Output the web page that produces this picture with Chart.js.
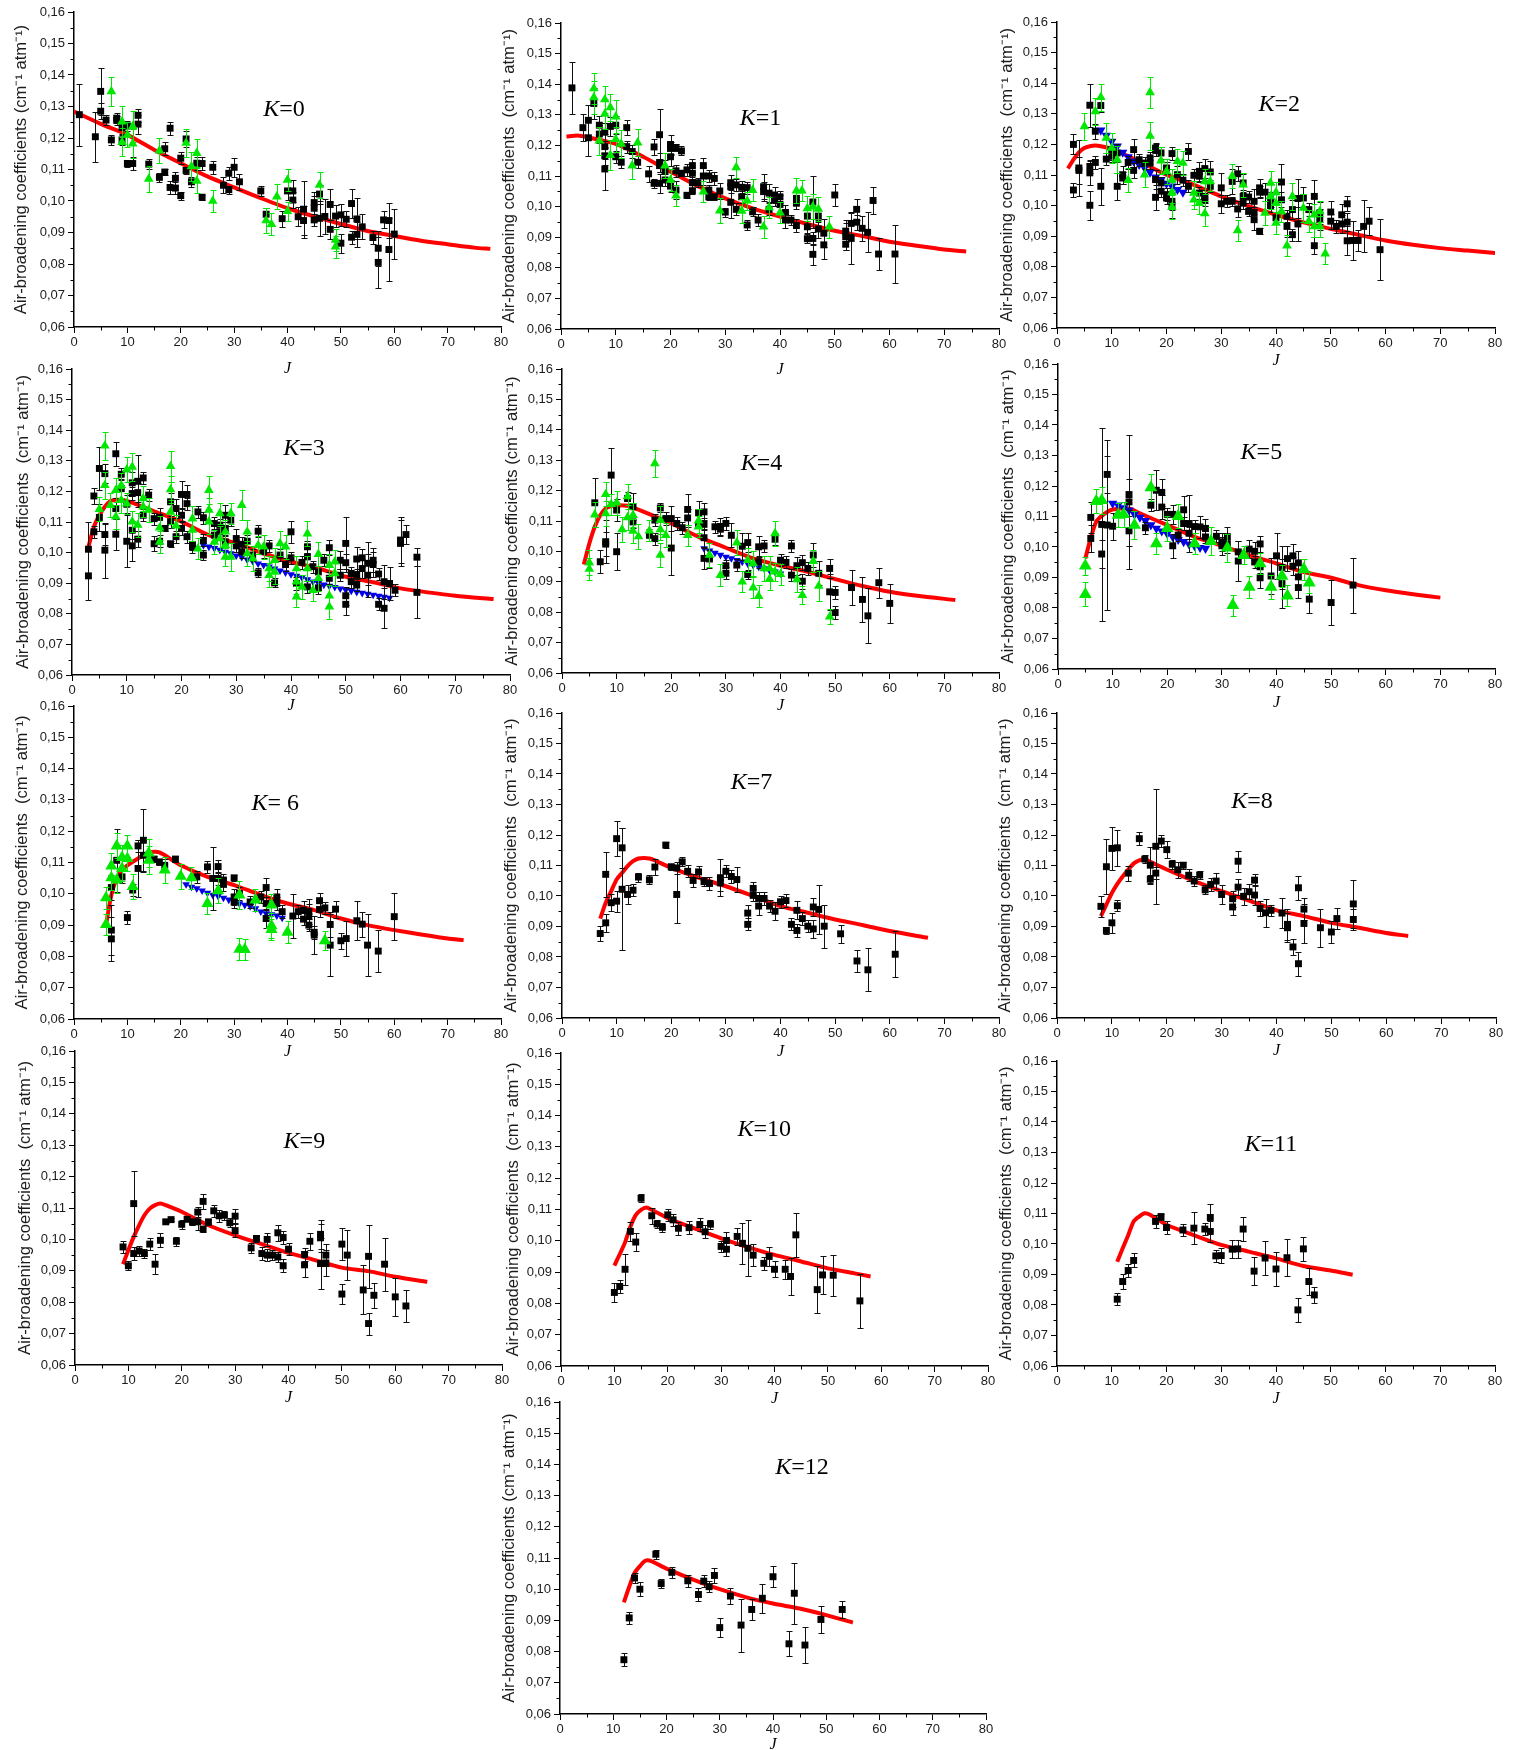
<!DOCTYPE html>
<html>
<head>
<meta charset="utf-8">
<title>Air-broadening coefficients</title>
<script src="https://cdn.jsdelivr.net/npm/chart.js@4"></script>
<style>
  html, body { margin: 0; padding: 0; background: #fff; }
  #page { position: relative; width: 1522px; height: 1750px; overflow: hidden; }
  canvas { position: absolute; }
</style>
</head>
<body>
<div id="page"></div>
<script>
// K=0
const k0BlackJ = [1,4,5,5,6,7,8,8,9,9,10,10,11,12,12,14,16,17,17,18,18,19,19,20,20,21,21,22,23,24,24,26,28,29,29,30,31,35,36,39,40,41,41,42,43,43,45,45,45,46,46,47,48,48,49,50,50,51,52,52,53,53,54,56,57,57,58,59,59,60];
const k0BlackG = [0.1274,0.1204,0.1348,0.1285,0.1257,0.1194,0.1263,0.1256,0.1233,0.1194,0.1238,0.1119,0.1119,0.1272,0.1244,0.1117,0.1075,0.1166,0.1092,0.1231,0.1043,0.1072,0.1041,0.1136,0.1017,0.1197,0.1097,0.1061,0.112,0.1119,0.1012,0.1107,0.105,0.1088,0.1036,0.1107,0.1061,0.1032,0.0958,0.0944,0.1032,0.1032,0.1003,0.095,0.0974,0.0938,0.0995,0.0977,0.094,0.1022,0.0945,0.0951,0.0989,0.091,0.0952,0.0956,0.0866,0.0942,0.0992,0.0885,0.0943,0.0894,0.0918,0.0884,0.085,0.0805,0.094,0.0938,0.0846,0.0895];
const k0BlackE = [0.0098,0.008,0.0075,0.0025,0.0015,0.0015,0.0015,0.0015,0.002,0.0015,0.0015,0.001,0.0022,0.002,0.003,0.0015,0.0015,0.002,0.001,0.002,0.002,0.002,0.002,0.002,0.0013,0.0025,0.001,0.0015,0.002,0.002,0.0008,0.002,0.0025,0.002,0.0013,0.003,0.0025,0.0016,0.002,0.0025,0.003,0.0035,0.0025,0.003,0.009,0.0045,0.0035,0.004,0.002,0.003,0.0055,0.0055,0.005,0.003,0.0035,0.0035,0.003,0.0025,0.0045,0.002,0.0065,0.004,0.004,0.002,0.0055,0.008,0.0027,0.0055,0.0099,0.008];
const k0GreenJ = [7,9,9,10,11,11,14,16,21,22,23,23,26,36,37,38,40,40,46,49,49];
const k0GreenG = [0.1348,0.1252,0.1187,0.121,0.1237,0.1182,0.107,0.116,0.1184,0.111,0.1152,0.1064,0.1,0.0938,0.0926,0.1014,0.1067,0.0968,0.1051,0.0876,0.0855];
const k0GreenE = [0.0045,0.005,0.0045,0.004,0.005,0.0045,0.004,0.004,0.0045,0.0045,0.0045,0.004,0.0035,0.004,0.0035,0.004,0.0035,0.003,0.004,0.0035,0.0035];
const k0CurveJ = [0,5,10,15,20,25,30,35,40,45,50,55,60,65,70,75,78];
const k0CurveG = [0.1284,0.1245,0.121,0.1163,0.112,0.1078,0.1043,0.1009,0.0977,0.0951,0.0927,0.0905,0.0889,0.0874,0.0863,0.0852,0.0848];

// K=1
const k1BlackJ = [2,4,5,5,6,7,7,8,8,8,8,9,10,10,11,12,12,13,14,16,17,17,18,18,18,18,19,19,20,20,20,20,21,21,21,22,22,23,23,24,24,24,24,25,26,26,27,27,27,28,28,29,30,31,31,31,32,32,33,33,34,34,35,36,37,37,38,38,39,39,40,40,41,41,42,43,43,43,45,45,45,46,46,46,47,47,48,48,50,52,52,52,53,53,54,54,55,56,57,58,61];
const k1BlackG = [0.1388,0.1258,0.1282,0.1225,0.1337,0.1266,0.1237,0.1243,0.1196,0.1166,0.1123,0.1262,0.1266,0.1163,0.1145,0.1258,0.1196,0.118,0.1145,0.1107,0.1195,0.1076,0.1235,0.1144,0.1134,0.1076,0.1117,0.1087,0.1203,0.119,0.1163,0.1067,0.1193,0.1117,0.1054,0.1182,0.1109,0.112,0.1037,0.1134,0.1109,0.1078,0.1052,0.1078,0.1134,0.11,0.11,0.1032,0.1054,0.1092,0.1032,0.1051,0.0982,0.1078,0.1065,0.1014,0.1071,0.0991,0.1032,0.1063,0.1062,0.094,0.0983,0.0956,0.1065,0.1049,0.1044,0.0991,0.1038,0.1022,0.1032,0.1007,0.0981,0.0956,0.0956,0.0938,0.1027,0.1011,0.0969,0.0934,0.0895,0.1015,0.0896,0.0844,0.0969,0.0927,0.0913,0.0875,0.1038,0.092,0.0902,0.0877,0.0945,0.0896,0.0991,0.0949,0.0929,0.0916,0.102,0.0845,0.0845];
const k1BlackE = [0.0085,0.0045,0.005,0.006,0.005,0.003,0.003,0.003,0.004,0.003,0.007,0.003,0.003,0.002,0.002,0.0025,0.002,0.002,0.002,0.0025,0.0025,0.0015,0.0085,0.003,0.002,0.003,0.0035,0.002,0.003,0.002,0.003,0.002,0.001,0.002,0.003,0.0015,0.001,0.002,0.001,0.002,0.002,0.002,0.001,0.0015,0.0025,0.003,0.002,0.001,0.0015,0.002,0.001,0.0025,0.0015,0.0025,0.002,0.005,0.002,0.002,0.002,0.002,0.002,0.0015,0.0015,0.002,0.004,0.003,0.003,0.002,0.0025,0.002,0.002,0.003,0.0025,0.0025,0.0015,0.002,0.002,0.002,0.0025,0.002,0.0015,0.0085,0.002,0.0035,0.002,0.003,0.0045,0.0045,0.0035,0.0035,0.0045,0.002,0.0035,0.0085,0.0035,0.0025,0.004,0.0065,0.0045,0.0053,0.0095];
const k1GreenJ = [6,6,7,8,8,9,9,10,10,11,13,14,19,20,21,26,29,32,33,34,35,37,38,40,43,44,45,46,47,49];
const k1GreenG = [0.1386,0.1357,0.1215,0.135,0.1303,0.1324,0.1168,0.1294,0.122,0.1205,0.1134,0.1209,0.1134,0.1087,0.1036,0.1049,0.0987,0.1128,0.0986,0.1019,0.1054,0.0934,0.0997,0.098,0.1052,0.1052,0.0994,0.1,0.0992,0.0934];
const k1GreenE = [0.0052,0.0055,0.0045,0.0045,0.005,0.0045,0.005,0.0055,0.004,0.0045,0.0045,0.0045,0.004,0.0035,0.0035,0.0035,0.004,0.0035,0.004,0.003,0.0035,0.0035,0.0035,0.0035,0.004,0.0035,0.004,0.004,0.004,0.0035];
const k1CurveJ = [1,3,5,10,15,20,25,30,35,40,45,50,55,60,65,70,74];
const k1CurveG = [0.1229,0.1232,0.1226,0.1205,0.1163,0.1114,0.1067,0.1027,0.0994,0.0967,0.0943,0.0921,0.0904,0.0885,0.0872,0.086,0.0853];

// K=2
const k2BlackJ = [3,3,4,4,6,6,6,6,7,7,8,8,9,10,10,11,11,12,12,13,14,14,15,16,17,17,18,18,18,18,19,19,19,20,20,20,21,21,21,22,23,24,24,25,26,26,26,27,27,27,28,28,30,30,31,32,32,33,33,34,34,34,35,35,36,36,36,37,37,37,38,39,39,40,41,41,42,42,43,43,44,44,45,46,47,47,48,48,50,50,51,52,52,53,53,53,54,55,56,57,59];
const k2BlackG = [0.12,0.1051,0.1123,0.1115,0.1328,0.1128,0.1107,0.1001,0.1243,0.1141,0.1327,0.1063,0.1152,0.1183,0.1161,0.1063,0.1172,0.1101,0.109,0.1141,0.1183,0.1115,0.115,0.1139,0.1156,0.1139,0.1188,0.1181,0.1085,0.1027,0.1172,0.1074,0.1047,0.1123,0.1036,0.1025,0.117,0.1014,0.1,0.1101,0.1083,0.1177,0.1063,0.1099,0.1112,0.1096,0.1041,0.1121,0.103,0.1019,0.111,0.1063,0.1058,0.1006,0.1014,0.1014,0.1079,0.1104,0.0989,0.1074,0.103,0.1008,0.1028,0.0981,0.1014,0.0954,0.0976,0.1058,0.1044,0.0916,0.1044,0.1019,0.1,0.096,0.1077,0.1019,0.0965,0.0932,0.0987,0.0905,0.1023,0.094,0.1025,0.0987,0.103,0.0869,0.0976,0.0954,0.0979,0.0949,0.0932,0.097,0.094,0.1006,0.0946,0.0885,0.0886,0.0886,0.0932,0.0949,0.0856];
const k2BlackE = [0.0033,0.0022,0.009,0.0045,0.007,0.002,0.004,0.0048,0.0025,0.002,0.002,0.006,0.002,0.0035,0.002,0.0045,0.003,0.003,0.002,0.002,0.0035,0.0025,0.002,0.002,0.002,0.002,0.0015,0.002,0.003,0.004,0.002,0.002,0.002,0.002,0.002,0.002,0.002,0.003,0.004,0.003,0.002,0.0027,0.002,0.002,0.003,0.002,0.002,0.003,0.002,0.002,0.0035,0.002,0.005,0.003,0.002,0.0015,0.004,0.0025,0.0025,0.003,0.002,0.002,0.002,0.0015,0.004,0.0035,0.002,0.003,0.002,0.001,0.003,0.0025,0.002,0.002,0.006,0.0025,0.002,0.0035,0.003,0.002,0.0065,0.0055,0.0035,0.002,0.0055,0.0028,0.0035,0.0035,0.0035,0.0025,0.002,0.0035,0.003,0.0025,0.003,0.0048,0.0065,0.0035,0.0085,0.0045,0.01];
const k2GreenJ = [5,7,8,9,10,11,13,16,17,17,19,20,21,21,21,22,23,25,25,26,27,27,28,32,33,34,38,39,39,40,40,40,41,42,43,45,46,47,47,48,48,49];
const k2GreenG = [0.1259,0.1308,0.1354,0.1221,0.1188,0.115,0.1083,0.1101,0.137,0.1228,0.1147,0.1112,0.1085,0.1043,0.0995,0.1145,0.1139,0.1041,0.1019,0.1008,0.1079,0.0974,0.1079,0.1096,0.0919,0.1068,0.0976,0.1074,0.103,0.1043,0.1008,0.0943,0.0981,0.0869,0.103,0.0992,0.0949,0.097,0.0932,0.0981,0.0932,0.0843];
const k2GreenE = [0.0045,0.0045,0.0045,0.005,0.005,0.0045,0.004,0.004,0.005,0.0045,0.0045,0.004,0.0035,0.0035,0.004,0.004,0.004,0.004,0.003,0.0035,0.004,0.004,0.003,0.004,0.0035,0.004,0.004,0.004,0.004,0.0035,0.003,0.0035,0.0035,0.0035,0.0045,0.0045,0.0035,0.0035,0.0035,0.0035,0.0035,0.0035];
const k2BlueJ = [8,9,10,11,12,13,14,15,16,17,18,19,20,21,22,23];
const k2BlueG = [0.1246,0.1229,0.121,0.1194,0.1174,0.1159,0.1145,0.1134,0.1123,0.1109,0.1093,0.1085,0.1072,0.1063,0.1052,0.1043];
const k2CurveJ = [2,3,4,5,6,7,8,10,15,20,25,30,35,40,45,50,55,60,65,70,75,80];
const k2CurveG = [0.1121,0.115,0.1174,0.1188,0.1194,0.1196,0.1194,0.1185,0.1145,0.1101,0.1068,0.103,0.0998,0.097,0.0945,0.0924,0.0905,0.0886,0.0872,0.0861,0.0853,0.0845];

// K=3
const k3BlackJ = [3,3,4,4,5,5,6,6,6,8,8,8,9,9,10,10,11,11,11,11,12,12,12,13,13,14,15,15,16,16,17,18,18,18,19,19,20,20,20,21,21,21,22,22,23,24,24,24,26,26,27,27,28,28,28,29,30,30,31,31,32,33,34,34,35,36,37,38,39,40,40,41,42,43,43,43,44,45,45,46,47,47,49,49,50,50,50,50,51,51,52,52,52,53,53,54,54,55,55,56,56,57,57,58,59,60,60,61,63,63];
const k3BlackG = [0.1011,0.0924,0.1185,0.1068,0.1275,0.1115,0.1258,0.1059,0.1008,0.1323,0.1144,0.106,0.1256,0.1209,0.1158,0.1037,0.1228,0.1193,0.1073,0.1022,0.1233,0.1196,0.1044,0.1244,0.1122,0.1188,0.1111,0.1029,0.1115,0.1037,0.1079,0.1166,0.1101,0.1029,0.1144,0.1052,0.119,0.1122,0.1079,0.119,0.116,0.1052,0.1019,0.1024,0.1133,0.1114,0.104,0.0992,0.1095,0.1057,0.109,0.1068,0.1122,0.1079,0.1035,0.1106,0.1046,0.1022,0.1027,0.1003,0.1037,0.0992,0.107,0.0934,0.1003,0.1022,0.0901,0.0992,0.0961,0.1068,0.0983,0.0899,0.0968,0.1019,0.0986,0.0888,0.0954,0.0885,0.0937,0.0975,0.1016,0.0916,0.0975,0.0926,0.103,0.0967,0.0859,0.0831,0.0932,0.0905,0.0979,0.0926,0.0894,0.0983,0.0948,0.0965,0.0926,0.0975,0.0961,0.093,0.0831,0.0905,0.0818,0.0899,0.0877,0.1041,0.103,0.1059,0.0985,0.087];
const k3BlackE = [0.009,0.008,0.0025,0.002,0.007,0.0045,0.003,0.0035,0.009,0.004,0.0035,0.005,0.002,0.003,0.003,0.0085,0.0035,0.002,0.003,0.005,0.0085,0.003,0.0025,0.002,0.002,0.002,0.002,0.0025,0.003,0.002,0.001,0.003,0.002,0.001,0.003,0.002,0.0045,0.002,0.002,0.003,0.002,0.002,0.002,0.0015,0.002,0.002,0.002,0.0015,0.002,0.002,0.002,0.002,0.0035,0.002,0.002,0.002,0.003,0.002,0.0025,0.002,0.002,0.002,0.002,0.0015,0.002,0.002,0.0015,0.002,0.002,0.0035,0.002,0.002,0.002,0.002,0.0035,0.002,0.002,0.002,0.002,0.002,0.0025,0.002,0.003,0.002,0.0085,0.003,0.003,0.0035,0.002,0.002,0.004,0.002,0.002,0.003,0.003,0.007,0.007,0.004,0.004,0.002,0.002,0.0055,0.0065,0.0055,0.002,0.0075,0.0075,0.003,0.003,0.0085];
const k3GreenJ = [5,6,6,7,8,8,9,9,10,10,11,11,12,13,13,14,16,16,18,18,18,19,22,22,23,25,25,25,26,27,27,28,28,28,29,29,31,32,32,33,34,35,36,36,37,37,38,39,41,41,41,42,43,43,44,45,45,47,47,47,48,48];
const k3GreenG = [0.1142,0.1349,0.122,0.1155,0.1204,0.1117,0.122,0.1171,0.1271,0.116,0.128,0.1101,0.109,0.1177,0.115,0.1139,0.1081,0.1035,0.1282,0.1206,0.1133,0.1088,0.1111,0.1074,0.1013,0.1204,0.1139,0.1101,0.1035,0.1128,0.1046,0.1068,0.1024,0.0986,0.1128,0.0986,0.1155,0.1068,0.0997,0.0981,0.1024,0.1019,0.0948,0.0926,0.0975,0.0937,0.103,0.1019,0.0948,0.0905,0.0856,0.0888,0.1062,0.0948,0.0877,0.0995,0.0916,0.0959,0.0859,0.0823,0.097,0.0932];
const k3GreenE = [0.004,0.0045,0.0045,0.004,0.004,0.004,0.004,0.004,0.004,0.0035,0.0045,0.0035,0.004,0.004,0.0035,0.004,0.004,0.0035,0.005,0.0045,0.004,0.0035,0.004,0.0035,0.0035,0.0045,0.004,0.004,0.004,0.0035,0.004,0.004,0.004,0.003,0.0035,0.0045,0.005,0.004,0.004,0.004,0.003,0.004,0.004,0.004,0.004,0.004,0.004,0.004,0.004,0.004,0.0035,0.004,0.004,0.004,0.0035,0.004,0.004,0.0035,0.0035,0.004,0.004,0.004];
const k3BlueJ = [24,25,26,27,28,29,30,31,32,33,34,35,36,37,38,39,40,41,42,43,44,45,46,47,48,49,50,51,52,53,54,55,56,57,58];
const k3BlueG = [0.1024,0.1019,0.1014,0.1009,0.1002,0.0997,0.099,0.0985,0.0977,0.0972,0.0964,0.0959,0.0954,0.0947,0.0941,0.0935,0.0929,0.0924,0.0919,0.0912,0.0905,0.0901,0.0895,0.0891,0.0887,0.0882,0.0878,0.0875,0.0871,0.0868,0.0865,0.0862,0.0858,0.0855,0.0852];
const k3CurveJ = [3,4,5,6,7,8,10,15,20,25,30,35,40,45,50,55,60,65,70,77];
const k3CurveG = [0.1019,0.1084,0.1122,0.115,0.1168,0.1173,0.1169,0.1135,0.1101,0.1057,0.103,0.0997,0.097,0.0948,0.0921,0.0903,0.0883,0.087,0.0859,0.0848];

// K=4
const k4BlackJ = [6,7,8,8,9,10,10,12,13,13,16,17,17,18,19,20,20,21,22,23,23,25,25,26,26,26,26,27,28,29,29,30,30,30,31,32,33,34,34,36,36,37,39,40,41,42,42,43,44,44,45,46,47,49,49,50,50,53,55,56,58,60];
const k4BlackG = [0.116,0.0966,0.1032,0.1024,0.1251,0.1136,0.0999,0.1174,0.1147,0.1097,0.1053,0.1103,0.1042,0.1143,0.1108,0.1108,0.1011,0.1092,0.1078,0.1138,0.111,0.1127,0.1086,0.113,0.1089,0.1045,0.0977,0.0975,0.1081,0.1081,0.1073,0.1092,0.0953,0.0928,0.1053,0.0955,0.1017,0.1029,0.0924,0.1015,0.0966,0.1018,0.104,0.0971,0.0964,0.1018,0.0922,0.0953,0.0963,0.0902,0.0944,0.0988,0.0928,0.0944,0.0867,0.0865,0.0799,0.0881,0.0842,0.0788,0.0897,0.0829];
const k4BlackE = [0.008,0.0038,0.007,0.004,0.009,0.0035,0.006,0.002,0.0045,0.002,0.002,0.002,0.002,0.0015,0.002,0.004,0.0088,0.002,0.002,0.005,0.003,0.004,0.004,0.0028,0.002,0.003,0.0035,0.003,0.002,0.003,0.002,0.002,0.002,0.002,0.004,0.002,0.0045,0.003,0.0015,0.0035,0.002,0.002,0.002,0.002,0.002,0.002,0.002,0.003,0.0025,0.0025,0.002,0.004,0.004,0.003,0.006,0.002,0.002,0.0058,0.0075,0.009,0.005,0.0065];
const k4GreenJ = [5,5,6,8,8,9,10,11,12,12,13,13,14,16,17,18,18,18,19,23,25,25,27,29,32,33,34,35,35,36,37,38,38,39,39,40,43,44,46,47,49];
const k4GreenG = [0.0963,0.0942,0.1121,0.1188,0.1125,0.1155,0.116,0.1072,0.1181,0.1112,0.1119,0.1067,0.1049,0.1068,0.1289,0.1103,0.1072,0.0988,0.1053,0.1053,0.1101,0.1081,0.0988,0.0922,0.1029,0.09,0.0971,0.096,0.0881,0.0853,0.0944,0.0944,0.0909,0.1059,0.0933,0.0925,0.0908,0.0856,0.0968,0.0886,0.0785];
const k4GreenE = [0.004,0.0035,0.004,0.004,0.004,0.0035,0.004,0.004,0.004,0.004,0.004,0.004,0.004,0.0035,0.0045,0.0045,0.0035,0.004,0.004,0.0035,0.004,0.0035,0.004,0.0035,0.004,0.0035,0.004,0.004,0.0035,0.0035,0.004,0.004,0.0035,0.004,0.003,0.0035,0.004,0.003,0.0035,0.005,0.0025];
const k4BlueJ = [26,27,28,29,30,31,32,33,34,35,36,37,38,39,40];
const k4BlueG = [0.101,0.1002,0.0995,0.0988,0.0982,0.0977,0.0971,0.0966,0.096,0.0955,0.0949,0.0944,0.0938,0.0933,0.0927];
const k4CurveJ = [4,5,6,7,8,9,10,12,15,20,25,30,35,40,45,50,55,60,65,72];
const k4CurveG = [0.0957,0.1026,0.1081,0.1119,0.1141,0.1149,0.1152,0.115,0.113,0.1092,0.1048,0.1012,0.0977,0.0953,0.0933,0.0909,0.0886,0.0867,0.0854,0.084];

// K=5
const k5BlackJ = [6,6,8,8,9,9,10,13,13,13,16,17,18,19,19,20,21,21,22,23,23,24,24,25,26,27,27,29,30,30,31,31,33,33,35,36,36,37,37,37,39,40,41,41,42,43,43,44,44,44,46,50,54];
const k5BlackG = [0.1097,0.1028,0.1074,0.0977,0.1238,0.1072,0.1068,0.1148,0.1172,0.1053,0.1063,0.1137,0.1186,0.1179,0.1131,0.1107,0.1107,0.1004,0.1039,0.1122,0.1077,0.1077,0.1045,0.1067,0.1066,0.1061,0.1033,0.1035,0.1017,0.1004,0.1034,0.1011,0.0984,0.0954,0.0993,0.0986,0.0951,0.101,0.0935,0.0899,0.0905,0.0971,0.0933,0.088,0.0962,0.0971,0.0937,0.0948,0.0902,0.0867,0.0829,0.0818,0.0875];
const k5BlackE = [0.005,0.0045,0.0316,0.0047,0.006,0.028,0.0045,0.0219,0.005,0.005,0.002,0.002,0.0065,0.0045,0.004,0.002,0.003,0.004,0.002,0.0045,0.002,0.0095,0.002,0.002,0.0035,0.003,0.002,0.002,0.003,0.003,0.003,0.003,0.0035,0.0065,0.003,0.003,0.002,0.0025,0.002,0.0035,0.006,0.0075,0.007,0.008,0.004,0.004,0.003,0.0038,0.004,0.0035,0.0045,0.0075,0.009];
const k5GreenJ = [5,5,7,8,11,12,14,17,18,20,22,25,28,31,32,34,35,37,39,41,42,45,46];
const k5GreenG = [0.0938,0.0845,0.115,0.1153,0.1105,0.1107,0.1072,0.1195,0.1011,0.1061,0.1101,0.1011,0.1019,0.0997,0.0809,0.0973,0.0869,0.0946,0.0869,0.0905,0.084,0.0927,0.0883];
const k5GreenE = [0.003,0.004,0.004,0.0045,0.004,0.004,0.0045,0.0045,0.0035,0.004,0.004,0.0035,0.0045,0.0045,0.0035,0.003,0.0035,0.0035,0.004,0.0035,0.0035,0.0035,0.0035];
const k5BlueJ = [10,11,12,13,14,15,16,17,18,19,20,21,22,23,24,25,26,27];
const k5BlueG = [0.1143,0.1137,0.1128,0.1121,0.1107,0.1097,0.1086,0.1072,0.1061,0.1052,0.1044,0.1033,0.1024,0.1017,0.1009,0.1004,0.0998,0.0995];
const k5CurveJ = [5,6,7,8,9,10,13,15,20,25,30,35,40,45,50,55,60,65,70];
const k5CurveG = [0.0962,0.103,0.1083,0.1102,0.1115,0.1123,0.1126,0.111,0.1072,0.1033,0.1004,0.0973,0.0946,0.0918,0.0899,0.0875,0.0858,0.0845,0.0834];

// K=6
const k6BlackJ = [7,7,7,8,9,10,11,12,12,13,13,15,16,17,19,23,25,26,27,27,28,28,30,30,30,31,33,35,36,36,36,38,38,39,41,42,43,43,44,44,44,45,45,46,46,47,48,48,49,50,51,53,54,55,57,60];
const k6BlackG = [0.102,0.0884,0.0856,0.1107,0.1054,0.0924,0.1012,0.1153,0.1081,0.1171,0.1123,0.1111,0.1102,0.1091,0.1111,0.1054,0.1086,0.1049,0.1087,0.1049,0.1044,0.103,0.1051,0.099,0.0974,0.1001,0.0974,0.099,0.102,0.0969,0.0921,0.099,0.0969,0.0943,0.0929,0.0943,0.0948,0.0919,0.0943,0.0927,0.09,0.0877,0.0868,0.0978,0.095,0.0955,0.0902,0.0836,0.0951,0.085,0.0857,0.0914,0.0903,0.0836,0.0817,0.0927];
const k6BlackE = [0.004,0.008,0.007,0.01,0.002,0.002,0.002,0.002,0.009,0.01,0.005,0.001,0.001,0.002,0.001,0.002,0.002,0.01,0.002,0.002,0.002,0.002,0.001,0.0025,0.002,0.002,0.002,0.002,0.003,0.002,0.003,0.0025,0.002,0.002,0.007,0.002,0.003,0.002,0.004,0.004,0.002,0.002,0.006,0.0025,0.0025,0.002,0.004,0.01,0.0027,0.0025,0.0055,0.0063,0.004,0.01,0.0066,0.0075];
const k6GreenJ = [6,6,7,7,8,8,9,9,10,10,11,14,14,17,20,22,25,27,31,31,32,34,37,37,37,40,47];
const k6GreenG = [0.0987,0.0902,0.1089,0.1051,0.1153,0.1044,0.1116,0.1081,0.1153,0.1113,0.1023,0.113,0.1107,0.1076,0.1056,0.1051,0.0969,0.101,0.0996,0.0823,0.0822,0.098,0.0964,0.0898,0.0886,0.0877,0.085];
const k6GreenE = [0.0035,0.0035,0.004,0.004,0.004,0.004,0.004,0.004,0.0035,0.004,0.004,0.0045,0.0045,0.004,0.004,0.0035,0.0035,0.004,0.0045,0.0035,0.0035,0.0035,0.0035,0.004,0.0035,0.0035,0.003];
const k6BlueJ = [21,22,23,24,25,26,27,28,29,30,31,32,33,34,35,36,37,38,39];
const k6BlueG = [0.103,0.1022,0.1017,0.101,0.1003,0.0996,0.0993,0.0987,0.0981,0.0974,0.0969,0.0964,0.096,0.0953,0.0943,0.0937,0.0934,0.093,0.0923];
const k6CurveJ = [6,7,8,9,10,12,14,16,20,25,30,35,40,45,50,55,60,65,70,73];
const k6CurveG = [0.09,0.0996,0.1049,0.1076,0.1091,0.1113,0.1131,0.1132,0.1091,0.1054,0.1028,0.0996,0.0969,0.0948,0.0921,0.09,0.0884,0.087,0.0857,0.0852];

// K=7
const k7BlackJ = [7,8,8,9,10,10,11,11,12,13,14,16,17,19,20,21,21,22,23,24,25,26,27,29,29,30,31,32,34,34,35,35,36,36,37,38,39,40,41,42,43,43,44,45,46,46,47,48,51,54,56,61];
const k7BlackG = [0.0877,0.1071,0.0912,0.0978,0.1188,0.0983,0.1158,0.1022,0.1005,0.1019,0.1062,0.1053,0.1095,0.1167,0.1096,0.1092,0.1005,0.1112,0.1081,0.1051,0.1079,0.1047,0.1041,0.106,0.1043,0.1081,0.1064,0.1054,0.0944,0.0907,0.1025,0.1002,0.0992,0.0967,0.0992,0.0967,0.095,0.0981,0.0985,0.0907,0.0953,0.0887,0.0926,0.0901,0.0964,0.0892,0.0956,0.0901,0.0876,0.0787,0.0758,0.0809];
const k7BlackE = [0.0025,0.0073,0.003,0.0027,0.0058,0.0035,0.0065,0.02,0.003,0.002,0.0015,0.0015,0.0025,0.001,0.001,0.002,0.0095,0.0015,0.002,0.002,0.002,0.0015,0.002,0.006,0.0025,0.002,0.002,0.004,0.0027,0.002,0.002,0.002,0.002,0.003,0.002,0.002,0.003,0.002,0.002,0.002,0.003,0.002,0.002,0.002,0.003,0.003,0.008,0.007,0.003,0.0035,0.007,0.0075];
const k7CurveJ = [7,8,9,10,11,12,13,14,15,16,17,20,25,30,35,40,45,50,55,60,67];
const k7CurveG = [0.0926,0.0978,0.1016,0.1054,0.1076,0.1098,0.1114,0.1123,0.1125,0.1123,0.1117,0.1092,0.106,0.1032,0.1,0.0967,0.0945,0.0923,0.0905,0.0885,0.0863];

// K=8
const k8BlackJ = [8,9,9,10,10,11,11,13,15,16,17,17,18,18,19,20,21,22,23,24,25,26,27,28,29,30,32,32,33,33,34,35,36,36,37,38,39,41,42,42,43,44,44,45,45,48,50,51,54,54];
const k8BlackG = [0.0966,0.1096,0.0887,0.1156,0.0912,0.1158,0.0968,0.1075,0.1188,0.1121,0.1101,0.1055,0.1163,0.1075,0.118,0.1152,0.1104,0.1086,0.1101,0.1068,0.1049,0.1069,0.102,0.1038,0.1049,0.1005,0.0991,0.0964,0.1114,0.1029,0.0999,0.1014,0.1052,0.1003,0.0959,0.0945,0.0953,0.0944,0.0907,0.0896,0.0833,0.1027,0.0778,0.0957,0.091,0.0896,0.0882,0.0926,0.0974,0.0923];
const k8BlackE = [0.0035,0.009,0.0012,0.007,0.0032,0.006,0.0018,0.0025,0.0022,0.0012,0.006,0.0015,0.0188,0.002,0.002,0.0027,0.0015,0.0027,0.0012,0.002,0.0015,0.0012,0.0015,0.002,0.0027,0.0032,0.0027,0.0027,0.0035,0.0027,0.0027,0.0025,0.002,0.0033,0.0025,0.0045,0.0018,0.005,0.005,0.0048,0.0027,0.004,0.004,0.0035,0.0065,0.0062,0.0035,0.0035,0.008,0.0035];
const k8CurveJ = [8,9,10,11,12,13,14,15,16,17,20,25,30,35,40,45,50,55,60,64];
const k8CurveG = [0.0934,0.0972,0.101,0.104,0.1065,0.1087,0.1107,0.1117,0.112,0.1112,0.1087,0.1049,0.1016,0.0985,0.0953,0.0934,0.0912,0.0896,0.0879,0.0869];

// K=9
const k9BlackJ = [9,10,11,11,12,13,14,15,16,17,18,19,20,21,22,23,23,24,24,25,26,27,28,29,30,30,33,34,35,36,36,37,38,38,39,39,40,43,43,44,46,46,46,47,47,50,50,51,54,55,55,56,58,60,62];
const k9BlackG = [0.0976,0.0916,0.1114,0.0955,0.0963,0.0955,0.0985,0.0921,0.0997,0.1056,0.1063,0.0994,0.1048,0.1064,0.1056,0.1087,0.1056,0.1121,0.1033,0.1056,0.1091,0.1075,0.1077,0.1053,0.1074,0.1028,0.0973,0.1003,0.0955,0.1,0.095,0.095,0.1021,0.0944,0.1006,0.0916,0.0969,0.0952,0.0919,0.0994,0.1016,0.1005,0.0923,0.095,0.0925,0.0985,0.0826,0.095,0.0839,0.0946,0.0732,0.0822,0.0921,0.0817,0.0788];
const k9BlackE = [0.002,0.0015,0.0103,0.002,0.0015,0.0015,0.0018,0.0032,0.0022,0.0005,0.0005,0.0015,0.0015,0.0005,0.001,0.0015,0.0025,0.0025,0.001,0.001,0.002,0.002,0.0015,0.0015,0.0022,0.002,0.0017,0.001,0.002,0.002,0.002,0.0015,0.0025,0.0015,0.002,0.002,0.002,0.002,0.004,0.0027,0.0045,0.0045,0.008,0.0035,0.004,0.005,0.0033,0.008,0.0078,0.01,0.0035,0.004,0.0085,0.006,0.005];
const k9CurveJ = [9,10,11,12,13,14,15,16,17,20,25,30,35,40,45,50,55,60,66];
const k9CurveG = [0.0921,0.0966,0.1008,0.1045,0.1077,0.1098,0.1109,0.1114,0.1109,0.1088,0.1045,0.1013,0.0985,0.0957,0.0934,0.091,0.0899,0.0881,0.0865];

// K=10
const k10BlackJ = [10,11,12,13,14,15,17,18,19,20,21,22,24,26,27,28,30,31,31,33,34,35,36,38,39,40,42,43,44,48,49,51,56];
const k10BlackG = [0.0835,0.0854,0.0909,0.103,0.0996,0.1136,0.108,0.1054,0.1043,0.1083,0.1067,0.104,0.1042,0.1052,0.1029,0.1053,0.0982,0.1001,0.0973,0.1014,0.0992,0.0976,0.0954,0.0928,0.095,0.0909,0.0909,0.0886,0.1019,0.0844,0.0891,0.089,0.0808];
const k10BlackE = [0.003,0.002,0.005,0.003,0.003,0.0012,0.0025,0.0012,0.0015,0.002,0.002,0.002,0.002,0.002,0.002,0.0015,0.0018,0.0027,0.002,0.0027,0.0065,0.009,0.0035,0.002,0.003,0.0025,0.003,0.006,0.007,0.0075,0.006,0.0065,0.0087];
const k10CurveJ = [10,11,12,13,14,15,16,17,20,25,30,35,40,45,50,55,58];
const k10CurveG = [0.0921,0.0957,0.0995,0.1045,0.1082,0.1099,0.1106,0.1099,0.1072,0.104,0.1008,0.098,0.0955,0.0934,0.0912,0.0896,0.0886];

// K=11
const k11BlackJ = [11,12,13,14,18,19,20,23,25,27,28,28,29,30,32,33,34,36,38,40,42,44,45,46,47];
const k11BlackG = [0.0819,0.0877,0.0913,0.0946,0.1074,0.109,0.1054,0.1046,0.1052,0.1049,0.1087,0.1041,0.0961,0.0962,0.0983,0.0984,0.1049,0.0911,0.0954,0.0918,0.0955,0.0784,0.0984,0.0877,0.0833];
const k11BlackE = [0.002,0.0025,0.002,0.0023,0.002,0.001,0.002,0.002,0.0052,0.002,0.0045,0.0035,0.002,0.0025,0.003,0.003,0.004,0.0047,0.0057,0.0055,0.006,0.004,0.004,0.0045,0.0025];
const k11CurveJ = [11,12,13,14,15,16,17,20,25,30,35,40,45,50,54];
const k11CurveG = [0.0942,0.0986,0.1029,0.1074,0.109,0.1101,0.1096,0.1063,0.1029,0.0997,0.0975,0.0953,0.0928,0.0913,0.0899];

// K=12
const k12BlackJ = [12,13,14,15,18,19,21,24,26,27,28,29,30,32,34,36,38,40,43,44,46,49,53];
const k12BlackG = [0.0774,0.0908,0.1036,0.1,0.1112,0.1018,0.1054,0.1027,0.0983,0.1026,0.1008,0.1044,0.0877,0.0978,0.0885,0.0935,0.0971,0.104,0.0825,0.0987,0.0821,0.0903,0.0935];
const k12BlackE = [0.002,0.002,0.0015,0.0022,0.0015,0.0015,0.0018,0.002,0.002,0.002,0.0018,0.0025,0.003,0.0025,0.0085,0.0033,0.0047,0.0033,0.004,0.0097,0.0058,0.0042,0.0027];
const k12CurveJ = [12,13,14,15,16,17,20,25,30,35,40,45,50,55];
const k12CurveG = [0.0958,0.1008,0.1052,0.1074,0.1091,0.1091,0.1066,0.1031,0.1,0.0974,0.0954,0.0938,0.0917,0.0893];

const kLabels = ['=0', '=1', '=2', '=3', '=4', '=5', '= 6', '=7', '=8', '=9', '=10', '=11', '=12'];
const yTitleWide = 'Air-broadening coefficients  (cm\u207B\u00B9 atm\u207B\u00B9)';
const yTitleNarrow = 'Air-broadening coefficients (cm\u207B\u00B9 atm\u207B\u00B9)';
const yTitles = [yTitleNarrow, yTitleWide, yTitleWide, yTitleWide, yTitleNarrow, yTitleWide, yTitleWide, yTitleWide, yTitleWide, yTitleWide, yTitleWide, yTitleWide, yTitleNarrow];

// page geometry of each panel, in pixels
const plotLeft = [73.7, 561.3, 1057.3, 71.7, 562, 1058.4, 74.3, 562, 1057.3, 74.7, 560.5, 1056.5, 559.7];
const plotRight = [500.3, 999, 1494.8, 509.7, 999, 1495.8, 501.7, 999, 1495.8, 501.3, 987.4, 1494.6, 986];
const plotTop = [12.3, 23, 22.3, 368.7, 368.7, 364, 705.7, 713.3, 713.3, 1051, 1053.3, 1061.3, 1401.7];
const plotBottom = [327, 329, 328.3, 675, 673, 668.7, 1019, 1018.7, 1018.7, 1364.7, 1366, 1366, 1714];
const yTitleGap = [53, 52, 50, 49, 50, 50, 52, 51, 52, 50, 48, 51, 51];
const jTitleGap = [41, 40, 32, 30, 32, 33, 32, 33, 32, 32, 32, 32, 30];
const labelLeft = [263, 740, 1258.7, 283, 740.7, 1241, 251.7, 730.7, 1231.5, 283.3, 737, 1244, 775];
const labelBase = [116, 125, 111, 455, 470, 459, 810, 789.3, 808.3, 1147.7, 1136, 1151.7, 1473.3];
const greenRadius = [5.6, 5.6, 5.6, 5.6, 5.6, 7.4, 7];
const blueRadius = [0, 0, 5.4, 4.4, 4.4, 5.4, 4.4];

const blackSeries = [
  [k0BlackJ, k0BlackG, k0BlackE], [k1BlackJ, k1BlackG, k1BlackE], [k2BlackJ, k2BlackG, k2BlackE],
  [k3BlackJ, k3BlackG, k3BlackE], [k4BlackJ, k4BlackG, k4BlackE], [k5BlackJ, k5BlackG, k5BlackE],
  [k6BlackJ, k6BlackG, k6BlackE], [k7BlackJ, k7BlackG, k7BlackE], [k8BlackJ, k8BlackG, k8BlackE],
  [k9BlackJ, k9BlackG, k9BlackE], [k10BlackJ, k10BlackG, k10BlackE], [k11BlackJ, k11BlackG, k11BlackE],
  [k12BlackJ, k12BlackG, k12BlackE],
];
const greenSeries = [
  [k0GreenJ, k0GreenG, k0GreenE], [k1GreenJ, k1GreenG, k1GreenE], [k2GreenJ, k2GreenG, k2GreenE],
  [k3GreenJ, k3GreenG, k3GreenE], [k4GreenJ, k4GreenG, k4GreenE], [k5GreenJ, k5GreenG, k5GreenE],
  [k6GreenJ, k6GreenG, k6GreenE],
];
const blueSeries = [null, null, [k2BlueJ, k2BlueG], [k3BlueJ, k3BlueG], [k4BlueJ, k4BlueG], [k5BlueJ, k5BlueG], [k6BlueJ, k6BlueG]];
const curveSeries = [
  [k0CurveJ, k0CurveG], [k1CurveJ, k1CurveG], [k2CurveJ, k2CurveG], [k3CurveJ, k3CurveG], [k4CurveJ, k4CurveG],
  [k5CurveJ, k5CurveG], [k6CurveJ, k6CurveG], [k7CurveJ, k7CurveG], [k8CurveJ, k8CurveG], [k9CurveJ, k9CurveG],
  [k10CurveJ, k10CurveG], [k11CurveJ, k11CurveG], [k12CurveJ, k12CurveG],
];

const sansFont = '"Liberation Sans", Arial, sans-serif';
const serifFont = '"Liberation Serif", "Times New Roman", serif';
const green = '#00e800';
const textColor = '#1c1c1c';

function toPoints(xs, ys) {
  return xs.map((x, i) => ({ x: x, y: ys[i] }));
}

const errorBars = {
  id: 'errorBars',
  beforeDatasetDraw(chart, args) {
    const ds = chart.data.datasets[args.index];
    if (!ds.errors) return;
    const { x: xScale, y: yScale } = chart.scales;
    const ctx = chart.ctx;
    ctx.save();
    ctx.strokeStyle = ds.errorColor;
    ctx.lineWidth = 1;
    ctx.beginPath();
    ds.data.forEach((p, i) => {
      const px = Math.round(xScale.getPixelForValue(p.x)) + 0.5;
      const up = Math.round(yScale.getPixelForValue(p.y + ds.errors[i])) + 0.5;
      const down = Math.round(yScale.getPixelForValue(p.y - ds.errors[i])) + 0.5;
      ctx.moveTo(px, up);
      ctx.lineTo(px, down);
      ctx.moveTo(px - 3, up);
      ctx.lineTo(px + 3, up);
      ctx.moveTo(px - 3, down);
      ctx.lineTo(px + 3, down);
    });
    ctx.stroke();
    ctx.restore();
  },
};

const minorTicks = {
  id: 'minorTicks',
  afterDraw(chart) {
    const { x: xScale, y: yScale } = chart.scales;
    const ctx = chart.ctx;
    ctx.save();
    ctx.strokeStyle = '#000';
    ctx.lineWidth = 1;
    ctx.beginPath();
    for (let v = 5; v < 80; v += 10) {
      const px = Math.round(xScale.getPixelForValue(v)) + 0.5;
      ctx.moveTo(px, yScale.bottom);
      ctx.lineTo(px, yScale.bottom + 3.5);
    }
    for (let v = 0.065; v < 0.16; v += 0.01) {
      const py = Math.round(yScale.getPixelForValue(v)) + 0.5;
      ctx.moveTo(xScale.left, py);
      ctx.lineTo(xScale.left - 3.5, py);
    }
    ctx.stroke();
    ctx.restore();
  },
};

const kLabel = {
  id: 'kLabel',
  afterDraw(chart, args, opts) {
    const ctx = chart.ctx;
    ctx.save();
    ctx.fillStyle = '#000';
    ctx.textBaseline = 'alphabetic';
    ctx.textAlign = 'left';
    ctx.font = 'italic 24px ' + serifFont;
    ctx.fillText('K', opts.x, opts.y);
    const w = ctx.measureText('K').width;
    ctx.font = '24px ' + serifFont;
    ctx.fillText(opts.text, opts.x + w, opts.y);
    ctx.restore();
  },
};

function drawPanel(i) {
  const left = plotLeft[i];
  const top = plotTop[i];
  const plotW = plotRight[i] - left;
  const plotH = plotBottom[i] - top;
  const yAxisW = yTitleGap[i] + 10;
  const xAxisH = jTitleGap[i] + 10;
  const padTop = 12;
  const padRight = 16;

  const canvas = document.createElement('canvas');
  canvas.width = Math.round(yAxisW + plotW + padRight);
  canvas.height = Math.round(padTop + plotH + xAxisH);
  canvas.style.left = (left - yAxisW) + 'px';
  canvas.style.top = (top - padTop) + 'px';
  document.getElementById('page').appendChild(canvas);

  const datasets = [{
    data: toPoints(curveSeries[i][0], curveSeries[i][1]),
    showLine: true,
    borderColor: '#ff0000',
    borderWidth: 4,
    tension: 0.25,
    borderCapStyle: 'butt',
    pointRadius: 0,
    order: 4,
  }, {
    data: toPoints(blackSeries[i][0], blackSeries[i][1]),
    errors: blackSeries[i][2],
    errorColor: '#111',
    pointStyle: 'rect',
    pointRadius: 4.9,
    backgroundColor: '#000',
    borderWidth: 0,
    order: 2,
  }];
  if (greenSeries[i]) {
    datasets.push({
      data: toPoints(greenSeries[i][0], greenSeries[i][1]),
      errors: greenSeries[i][2],
      errorColor: green,
      pointStyle: 'triangle',
      pointRadius: greenRadius[i],
      backgroundColor: green,
      borderWidth: 0,
      order: 1,
    });
  }
  if (blueSeries[i]) {
    datasets.push({
      data: toPoints(blueSeries[i][0], blueSeries[i][1]),
      pointStyle: 'triangle',
      rotation: 180,
      pointRadius: blueRadius[i],
      backgroundColor: '#0000e6',
      borderWidth: 0,
      order: 3,
    });
  }

  new Chart(canvas, {
    type: 'scatter',
    data: { datasets: datasets },
    plugins: [errorBars, minorTicks, kLabel],
    options: {
      responsive: false,
      animation: false,
      events: [],
      layout: { padding: { top: padTop, right: padRight, left: 0, bottom: 0 } },
      plugins: {
        legend: { display: false },
        tooltip: { enabled: false },
        kLabel: { text: kLabels[i], x: labelLeft[i] - left + yAxisW, y: labelBase[i] - top + padTop },
      },
      scales: {
        x: {
          type: 'linear',
          min: 0,
          max: 80,
          afterFit(scale) { scale.height = xAxisH; },
          ticks: {
            stepSize: 10,
            maxRotation: 0,
            autoSkip: false,
            padding: 2,
            color: textColor,
            font: { family: sansFont, size: 13 },
          },
          grid: { drawOnChartArea: false, tickLength: 6, tickColor: '#000', tickWidth: 1 },
          border: { color: '#000', width: 1.5 },
          title: {
            display: true,
            text: 'J',
            color: '#000',
            padding: 0,
            font: { family: serifFont, size: 16, style: 'italic' },
          },
        },
        y: {
          type: 'linear',
          min: 0.06,
          max: 0.16,
          afterFit(scale) { scale.width = yAxisW; },
          ticks: {
            stepSize: 0.01,
            autoSkip: false,
            padding: 3,
            color: textColor,
            font: { family: sansFont, size: 13 },
            callback: (value) => value.toFixed(2).replace('.', ','),
          },
          grid: { drawOnChartArea: false, tickLength: 6, tickColor: '#000', tickWidth: 1 },
          border: { color: '#000', width: 1.5 },
          title: {
            display: true,
            text: yTitles[i],
            color: textColor,
            padding: 0,
            font: { family: sansFont, size: 16.6 },
          },
        },
      },
    },
  });
}

curveSeries.forEach((_, i) => drawPanel(i));
</script>
</body>
</html>
